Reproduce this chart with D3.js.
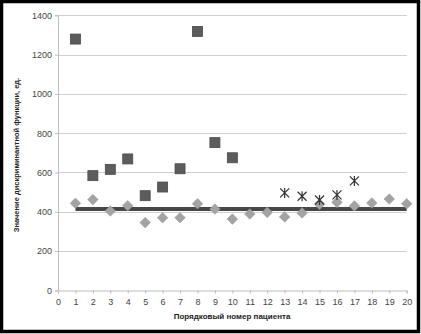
<!DOCTYPE html>
<html><head><meta charset="utf-8">
<script src="https://cdn.jsdelivr.net/npm/d3@7"></script>
<style>html,body{margin:0;padding:0;background:#fff;}svg{display:block;}</style>
</head><body>
<svg id="c" width="421" height="334"></svg>
<script>
const patients = d3.range(1, 21);
const xTicks = d3.range(0, 21);
const yTicks = [0, 200, 400, 600, 800, 1000, 1200, 1400];
const squareX = [1,2,3,4,5,6,7,8,9,10];
const squareVals = [1279,584,616,669,482,526,619,1318,752,675];
const diamondVals = [443,462,404,431,345,370,370,441,414,363,389,397,374,394,438,448,430,445,465,441];
const starX = [13,14,15,16,17];
const starVals = [496,479,460,486,557];
const thresholdX = [1,20];
const thresholdVal = 414;

const svg = d3.select("#c");
const W = 421, H = 334;
svg.append("rect").attr("x",1.5).attr("y",1.5).attr("width",W-4).attr("height",H-4)
  .attr("fill","#fff").attr("stroke","#000").attr("stroke-width",3.5);

const x = d3.scaleLinear().domain([0,20]).range([58,406.7]);
const y = d3.scaleLinear().domain([0,1400]).range([290.4,15.3]);

// gridlines
svg.append("g").selectAll("line").data(yTicks.filter(d=>d>0)).join("line")
  .attr("x1",x(0)).attr("x2",x(20)).attr("y1",d=>Math.round(y(d))+0.5).attr("y2",d=>Math.round(y(d))+0.5)
  .attr("stroke","#d0d0d0").attr("stroke-width",1);

const font = "'Liberation Sans', Arial, sans-serif";
// y axis
const ya = svg.append("g").attr("transform",`translate(${x(0)},0)`)
  .call(d3.axisLeft(y).tickValues(yTicks).tickFormat(d3.format("d")).tickSize(3).tickPadding(3));
ya.select(".domain").attr("stroke","#bdbdbd");
ya.selectAll(".tick line").attr("stroke","#bdbdbd");
ya.selectAll("text").attr("font-family",font).attr("font-size",9).attr("fill","#444");

// x axis
const xa = svg.append("g").attr("transform",`translate(0,${Math.round(y(0))+0.5})`)
  .call(d3.axisBottom(x).tickValues(xTicks).tickFormat(d3.format("d")).tickSize(3).tickPadding(5));
xa.select(".domain").attr("stroke","#bdbdbd");
xa.selectAll(".tick line").attr("stroke","#bdbdbd");
xa.selectAll("text").attr("font-family",font).attr("font-size",9).attr("fill","#444");

// threshold line
svg.append("line").attr("x1",x(thresholdX[0])).attr("x2",x(thresholdX[1]))
  .attr("y1",y(thresholdVal)).attr("y2",y(thresholdVal))
  .attr("stroke","#474747").attr("stroke-width",4);

// diamonds
svg.append("g").selectAll("path").data(patients).join("path")
  .attr("d",d3.symbol(d3.symbolDiamond2,72)())
  .attr("transform",(d,i)=>`translate(${x(d)},${y(diamondVals[i])})`)
  .attr("fill","#a3a3a3").attr("stroke","#999").attr("stroke-width",0.5);

// squares
svg.append("g").selectAll("rect").data(squareX).join("rect")
  .attr("x",d=>x(d)-5).attr("y",(d,i)=>y(squareVals[i])-5)
  .attr("width",10).attr("height",10)
  .attr("fill","#5c5c5c").attr("stroke","#4a4a4a").attr("stroke-width",0.8);

// stars (X + vertical)
const r = 4.5;
const starPath = `M${-r},${-r}L${r},${r}M${-r},${r}L${r},${-r}M0,${-r-0.5}L0,${r+0.5}`;
svg.append("g").selectAll("path").data(starX).join("path")
  .attr("d",starPath)
  .attr("transform",(d,i)=>`translate(${x(d)},${y(starVals[i])})`)
  .attr("fill","none").attr("stroke","#333").attr("stroke-width",1.2);

// axis titles
svg.append("text").attr("x",232).attr("y",319).attr("text-anchor","middle")
  .attr("font-family",font).attr("font-size",8).attr("font-weight","bold").attr("fill","#222")
  .text("Порядковый номер пациента");
svg.append("text").attr("transform","translate(19,155) rotate(-90)").attr("text-anchor","middle")
  .attr("font-family",font).attr("font-size",7.5).attr("font-weight","bold").attr("fill","#222")
  .text("Значение дискриминантной функции, ед.");
</script>
</body></html>
